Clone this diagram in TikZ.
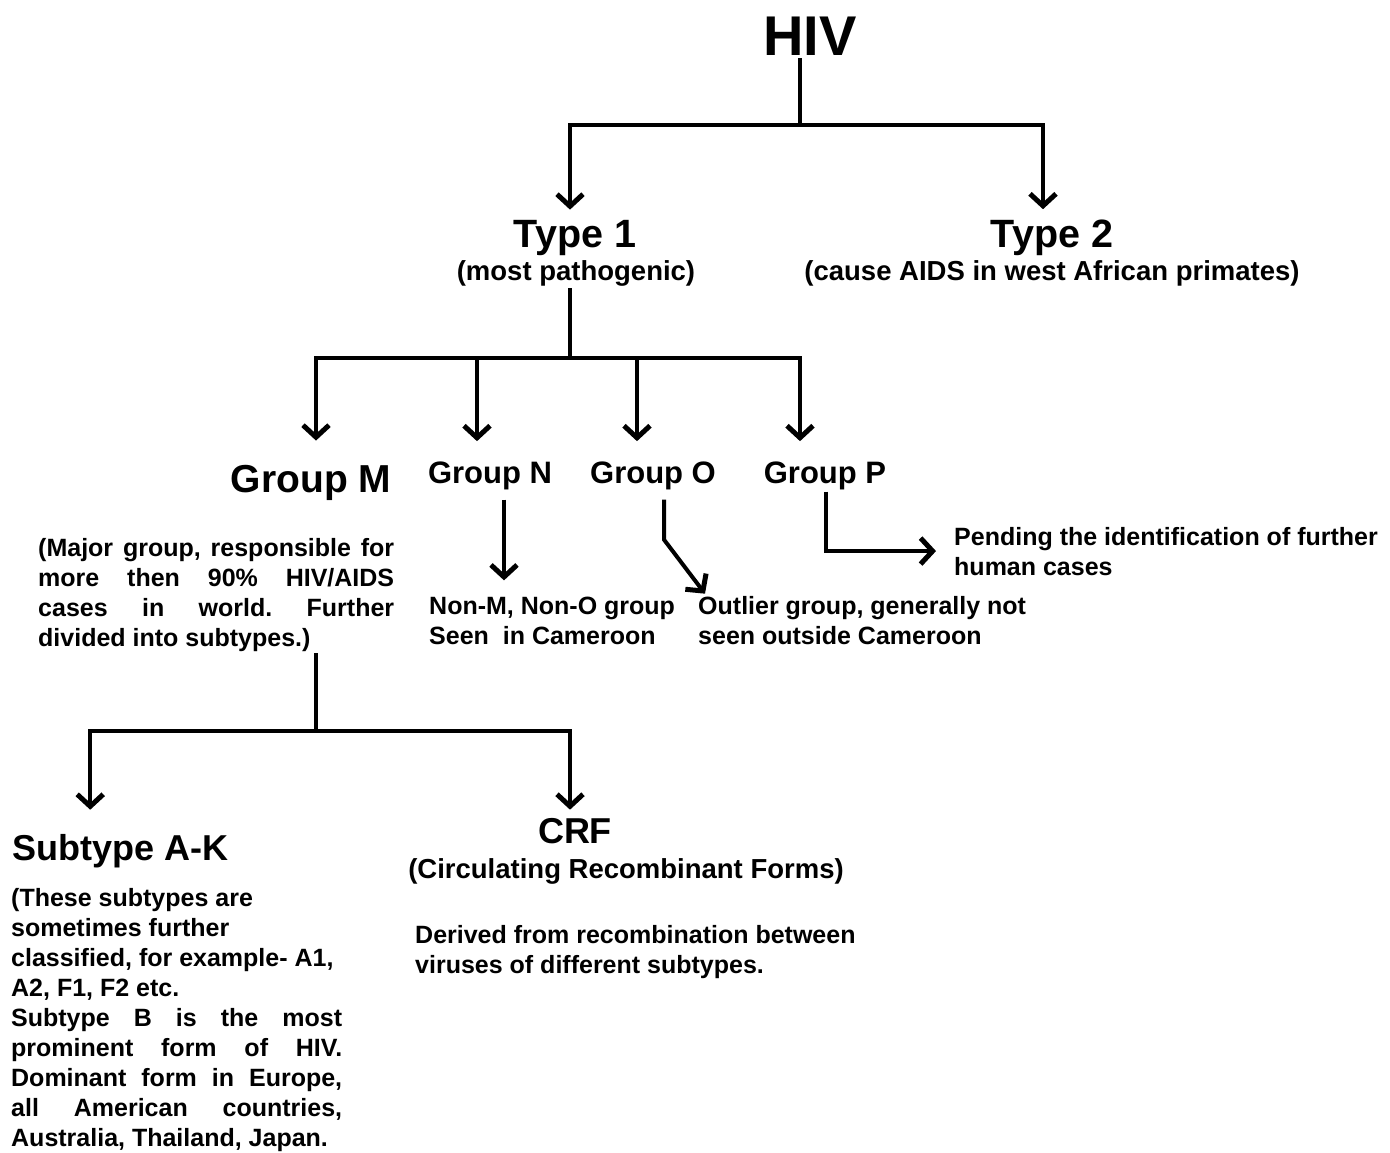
\documentclass[tikz,border=0pt]{standalone}
\usepackage{fontspec}
\setmainfont{Liberation Sans}
\usetikzlibrary{arrows.meta}
\frenchspacing

\tikzset{
  link/.style={line width=4pt},
  arr/.style={link,-{Straight Barb[length=12pt,width=26pt,line width=5pt]}},
  every node/.style={inner sep=2pt},
  headline/.style={font=\bfseries\fontsize{39.5}{42}\selectfont},
  groupname/.style={font=\bfseries\fontsize{31}{33}\selectfont},
  subline/.style={font=\bfseries\fontsize{27.5}{30}\selectfont, anchor=base},
  note/.style={font=\bfseries\fontsize{25}{30}\selectfont, align=left, anchor=base west},
}
\newcommand{\jline}[2]{\makebox[#1][s]{#2}}

\begin{document}
\begin{tikzpicture}[x=1pt,y=-1pt]
\useasboundingbox (0,0) rectangle (1390,1153);
% HIV and its two types
\node[font=\bfseries\fontsize{56}{60}\selectfont, anchor=base] (hiv) at (810,56) {HIV};
\node[headline, anchor=base] (type1) at (575,247) {Type 1};
\node[subline] (type1sub) at (576,280) {(most pathogenic)};
\node[headline, anchor=base] (type2) at (1052,247) {Type 2};
\node[subline] (type2sub) at (1052,280) {(cause AIDS in west African primates)};

\coordinate (jhiv) at (800,125);
\draw[link] (jhiv |- hiv.south) -- (jhiv);
\draw[arr] (jhiv) -| ([xshift=-5pt,yshift=8pt]type1.north);
\draw[arr] (jhiv) -| ([xshift=-9pt,yshift=8pt]type2.north);

% groups of type 1
\node[font=\bfseries\fontsize{39}{42}\selectfont, anchor=base] (gm) at (311,492) {Group M};
\node[groupname, anchor=base] (gn) at (490,483) {Group N};
\node[groupname, anchor=base] (go) at (653,483) {Group O};
\node[groupname, anchor=base] (gp) at (825,483) {Group P};

\coordinate (jt1) at (570,358);
\draw[link] (jt1 |- type1sub.south) -- (jt1);
\draw[arr] (jt1) -| ([xshift=5pt,yshift=22pt]gm.north);
\draw[arr] (jt1) -| ([xshift=-13pt,yshift=18pt]gn.north);
\draw[arr] (jt1) -| ([xshift=-16pt,yshift=18pt]go.north);
\draw[arr] (jt1) -| ([xshift=-25pt,yshift=18pt]gp.north);

% notes (anchored at the last line)
\node[note] (gmtext) at (36,646) {\jline{356pt}{(Major group, responsible for}\\
  \jline{356pt}{more then 90\% HIV/AIDS}\\
  \jline{356pt}{cases in world. Further}\\
  divided into subtypes.)};
\node[note] (gntext) at (427,644) {Non-M, Non-O group\\Seen\ \ in Cameroon};
\node[note] (gotext) at (696,644) {Outlier group, generally not\\seen outside Cameroon};
\node[note] (gptext) at (952,575) {Pending the identification of further\\human cases};

\draw[arr, shorten <=8pt, shorten >=14pt] ([xshift=14pt]gn.south) coordinate (nfoot) -- (nfoot |- gntext.north);
\draw[arr, shorten <=8pt] ([xshift=11pt]go.south) -- ++(0,48) -- ([xshift=9pt]gotext.north west);
\draw[arr, shorten >=16pt] ([xshift=1pt]gp.south) |- (gptext.west);

% subtypes of group M
\node[font=\bfseries\fontsize{36}{40}\selectfont, anchor=base west] (sub) at (10,860) {Subtype A-K};
\node[font=\bfseries\fontsize{36}{40}\selectfont, anchor=base] (crf) at (575,843) {CRF};
\node[subline] (crfsub) at (626,878) {(Circulating Recombinant Forms)};
\node[note] (crftext) at (413,973) {Derived from recombination between\\viruses of different subtypes.};
\node[note] (subtext) at (9,1146) {(These subtypes are\\sometimes further\\
  classified, for example- A1,\\A2, F1, F2 etc.\\
  \jline{331pt}{Subtype B is the most}\\
  \jline{331pt}{prominent form of HIV.}\\
  \jline{331pt}{Dominant form in Europe,}\\
  \jline{331pt}{all American countries,}\\
  Australia, Thailand, Japan.};

\coordinate (jgm) at (316,731);
\draw[link] (jgm |- gmtext.south) -- (jgm);
\draw[arr] (jgm) -| ([xshift=-30pt,yshift=22pt]sub.north);
\draw[arr] (jgm) -| ([xshift=-5pt,yshift=6pt]crf.north);
\end{tikzpicture}
\end{document}
